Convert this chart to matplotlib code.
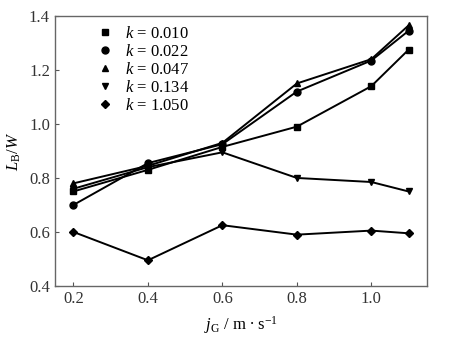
import matplotlib
matplotlib.use("Agg")
import matplotlib.pyplot as plt

plt.rcParams.update({
    "font.family": "serif",
    "font.serif": ["Liberation Serif", "DejaVu Serif"],
    "mathtext.fontset": "custom",
    "mathtext.rm": "Liberation Serif",
    "mathtext.it": "Liberation Serif:italic",
    "font.size": 12,
    "xtick.direction": "in",
    "ytick.direction": "in",
})

jg = [0.2, 0.4, 0.6, 0.8, 1.0, 1.1]
k_labels = ["0.010", "0.022", "0.047", "0.134", "1.050"]
lb_k010 = [0.75, 0.83, 0.915, 0.99, 1.14, 1.275]
lb_k022 = [0.70, 0.855, 0.925, 1.12, 1.235, 1.345]
lb_k047 = [0.78, 0.845, 0.93, 1.15, 1.24, 1.365]
lb_k134 = [0.76, 0.84, 0.895, 0.80, 0.785, 0.75]
lb_k1050 = [0.60, 0.495, 0.625, 0.59, 0.605, 0.595]

series = [lb_k010, lb_k022, lb_k047, lb_k134, lb_k1050]
markers = ["s", "o", "^", "v", "D"]

fig = plt.figure(figsize=(4.53, 3.4), dpi=100)
ax = fig.add_axes([0.121, 0.159, 0.822, 0.794])

for vals, m, lab in zip(series, markers, k_labels):
    ax.plot(jg, vals, color="black", marker=m, markersize=5 if m != "D" else 4.5,
            linewidth=1.4, label=f"$k$ = {lab}")

ax.set_xlim(0.15, 1.15)
ax.set_ylim(0.4, 1.4)
ax.set_xticks([0.2, 0.4, 0.6, 0.8, 1.0])
ax.set_yticks([0.4, 0.6, 0.8, 1.0, 1.2, 1.4])
ax.tick_params(length=3, color="#555555", labelcolor="#333333")
for s in ax.spines.values():
    s.set_color("#666666")
    s.set_linewidth(1.0)

ax.set_xlabel(r"$j_{\mathrm{G}}$ / m $\bullet$ s$^{-1}$", labelpad=5)
ax.set_ylabel(r"$L_{\mathrm{B}}/W$", labelpad=4)

leg = ax.legend(loc="upper left", bbox_to_anchor=(0.08, 1.0), frameon=False,
                handlelength=1.2, handletextpad=0.6, labelspacing=0.12,
                borderaxespad=0.2)
for h in leg.legend_handles:
    h.set_linestyle("none")

fig.savefig("out.png", dpi=100)
